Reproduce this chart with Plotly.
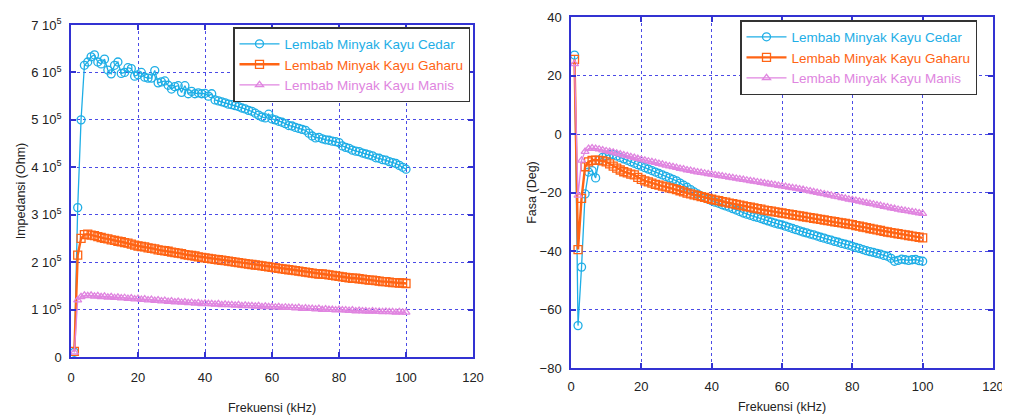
import plotly.graph_objects as go

# Frequency (kHz)
freq = list(range(1, 101))

# Impedance (units of 1e5 Ohm)
imp_cedar = [0.10, 3.15, 5.00, 6.15, 6.22, 6.33, 6.37, 6.22, 6.18, 6.28,
             6.05, 5.97, 6.15, 6.22, 5.98, 6.00, 6.10, 6.08, 5.92, 5.95,
             6.00, 5.90, 5.88, 5.88, 6.04, 5.78, 5.80, 5.82, 5.73, 5.65,
             5.70, 5.72, 5.58, 5.72, 5.55, 5.60, 5.55, 5.57, 5.55, 5.56,
             5.50, 5.55, 5.42, 5.40, 5.38, 5.36, 5.33, 5.32, 5.30, 5.28,
             5.25, 5.23, 5.20, 5.18, 5.14, 5.10, 5.06, 5.04, 5.12, 5.02,
             5.00, 4.97, 4.95, 4.92, 4.88, 4.87, 4.84, 4.82, 4.80, 4.78,
             4.72, 4.66, 4.62, 4.63, 4.60, 4.58, 4.57, 4.55, 4.54, 4.52,
             4.45, 4.42, 4.40, 4.36, 4.34, 4.33, 4.30, 4.28, 4.26, 4.24,
             4.20, 4.19, 4.16, 4.15, 4.12, 4.10, 4.08, 4.04, 4.00, 3.96]
imp_gaharu = [0.12, 2.15, 2.50, 2.58, 2.59, 2.57, 2.56, 2.54, 2.52, 2.50,
              2.49, 2.47, 2.46, 2.44, 2.43, 2.41, 2.40, 2.38, 2.36, 2.34,
              2.33, 2.32, 2.30, 2.29, 2.28, 2.26, 2.25, 2.24, 2.23, 2.21,
              2.20, 2.19, 2.18, 2.16, 2.15, 2.14, 2.13, 2.11, 2.10, 2.09,
              2.08, 2.07, 2.06, 2.05, 2.04, 2.03, 2.02, 2.01, 2.00, 1.99,
              1.98, 1.97, 1.96, 1.95, 1.94, 1.93, 1.92, 1.91, 1.90, 1.89,
              1.88, 1.87, 1.86, 1.85, 1.84, 1.83, 1.82, 1.81, 1.80, 1.79,
              1.78, 1.77, 1.76, 1.75, 1.75, 1.74, 1.73, 1.72, 1.71, 1.70,
              1.69, 1.68, 1.67, 1.66, 1.66, 1.65, 1.64, 1.63, 1.62, 1.62,
              1.61, 1.60, 1.59, 1.59, 1.58, 1.57, 1.57, 1.56, 1.56, 1.55]
imp_manis = [0.10, 1.20, 1.27, 1.30, 1.29, 1.30, 1.28, 1.29, 1.27, 1.28,
             1.26, 1.27, 1.25, 1.26, 1.24, 1.25, 1.23, 1.24, 1.22, 1.23,
             1.21, 1.22, 1.20, 1.21, 1.19, 1.20, 1.18, 1.19, 1.17, 1.18,
             1.16, 1.17, 1.15, 1.16, 1.14, 1.15, 1.13, 1.14, 1.12, 1.13,
             1.12, 1.12, 1.11, 1.12, 1.10, 1.11, 1.10, 1.10, 1.09, 1.10,
             1.08, 1.09, 1.08, 1.08, 1.07, 1.08, 1.06, 1.07, 1.06, 1.06,
             1.05, 1.06, 1.04, 1.05, 1.04, 1.04, 1.03, 1.04, 1.02, 1.03,
             1.02, 1.02, 1.01, 1.02, 1.00, 1.01, 1.00, 1.00, 0.99, 1.00,
             0.99, 0.99, 0.98, 0.99, 0.97, 0.98, 0.97, 0.97, 0.96, 0.97,
             0.96, 0.96, 0.95, 0.96, 0.95, 0.95, 0.94, 0.95, 0.94, 0.94]

# Phase (deg)
fasa_cedar = [27.0, -65.5, -45.5, -20.5, -13.0, -12.5, -15.0, -9.0, -8.0, -7.5,
              -7.0, -7.0, -7.5, -8.0, -8.5, -9.0, -9.5, -10.0, -10.5, -11.0,
              -11.5, -12.0, -12.5, -13.0, -13.5, -14.0, -14.5, -15.0, -15.5, -16.0,
              -16.8, -17.5, -18.2, -19.0, -19.8, -20.5, -21.2, -21.8, -22.3, -22.8,
              -23.3, -23.7, -24.2, -24.6, -25.0, -25.5, -26.0, -26.5, -27.0, -27.4,
              -27.8, -28.2, -28.5, -28.9, -29.3, -29.7, -30.1, -30.5, -30.8, -31.1,
              -31.5, -31.9, -32.3, -32.7, -33.1, -33.5, -33.8, -34.2, -34.5, -34.9,
              -35.3, -35.6, -36.0, -36.3, -36.7, -37.0, -37.4, -37.7, -38.0, -38.4,
              -38.8, -39.1, -39.5, -39.9, -40.2, -40.5, -40.8, -41.1, -41.5, -41.8,
              -42.5, -43.5, -43.2, -42.8, -43.0, -43.2, -43.0, -42.9, -43.3, -43.5]
fasa_gaharu = [25.5, -39.5, -22.0, -11.2, -9.5, -9.0, -8.9, -9.0, -9.2, -9.5,
               -10.2, -11.0, -11.7, -12.3, -12.9, -13.3, -13.7, -14.0, -14.8, -15.5,
               -16.0, -16.4, -16.8, -17.2, -17.5, -17.8, -18.1, -18.4, -18.7, -19.0,
               -19.4, -19.8, -20.2, -20.5, -20.8, -21.1, -21.4, -21.7, -22.0, -22.3,
               -22.6, -22.8, -23.1, -23.3, -23.6, -23.8, -24.1, -24.3, -24.6, -24.8,
               -25.0, -25.3, -25.5, -25.7, -26.0, -26.2, -26.4, -26.6, -26.8, -27.0,
               -27.2, -27.4, -27.6, -27.8, -28.0, -28.2, -28.4, -28.6, -28.8, -29.0,
               -29.2, -29.4, -29.6, -29.8, -30.0, -30.2, -30.4, -30.6, -30.8, -31.0,
               -31.3, -31.5, -31.8, -32.0, -32.3, -32.5, -32.8, -33.0, -33.3, -33.5,
               -33.7, -33.9, -34.1, -34.3, -34.5, -34.7, -34.9, -35.1, -35.3, -35.5]
fasa_manis = [24.0, -21.0, -9.0, -6.0, -5.0, -4.8, -5.0, -5.2, -5.5, -5.8,
              -6.0, -6.3, -6.6, -6.9, -7.2, -7.5, -7.8, -8.1, -8.4, -8.7,
              -9.0, -9.3, -9.5, -9.8, -10.1, -10.4, -10.7, -11.0, -11.2, -11.5,
              -11.8, -12.0, -12.3, -12.5, -12.8, -13.0, -13.2, -13.4, -13.6, -13.8,
              -14.0, -14.2, -14.4, -14.6, -14.8, -15.0, -15.2, -15.4, -15.6, -15.8,
              -16.0, -16.2, -16.4, -16.6, -16.8, -17.0, -17.2, -17.4, -17.6, -17.8,
              -18.0, -18.2, -18.4, -18.6, -18.8, -19.0, -19.3, -19.5, -19.8, -20.0,
              -20.3, -20.5, -20.8, -21.0, -21.3, -21.5, -21.8, -22.0, -22.3, -22.5,
              -22.8, -23.0, -23.3, -23.5, -23.8, -24.0, -24.3, -24.5, -24.8, -25.0,
              -25.3, -25.5, -25.8, -26.0, -26.2, -26.4, -26.6, -26.8, -27.0, -27.2]

series_names = ["Lembab Minyak Kayu Cedar", "Lembab Minyak Kayu Gaharu", "Lembab Minyak Kayu Manis"]
colors = ["#1eaee6", "#ff6414", "#e085e0"]
symbols = ["circle-open", "square-open", "triangle-up-open"]
msizes = [8, 8, 7]
lwidths = [1.3, 2.4, 1.3]

imp_tickvals = [0, 1, 2, 3, 4, 5, 6, 7]
imp_ticktext = ["0"] + [f"{k} 10<sup>5</sup>" for k in range(1, 8)]

FONT = "Arial, Liberation Sans, sans-serif"
BLUE = "#3232d2"
GRID = "#4b4be6"

fig = go.Figure()

imp_data = [imp_cedar, imp_gaharu, imp_manis]
fasa_data = [fasa_cedar, fasa_gaharu, fasa_manis]

for i in range(3):
    fig.add_trace(go.Scatter(
        x=freq, y=[v * 1e5 for v in imp_data[i]], mode="lines+markers",
        name=f"<span style='color:{colors[i]}'>{series_names[i]}</span>",
        line=dict(color=colors[i], width=lwidths[i]),
        marker=dict(symbol=symbols[i], size=msizes[i], color=colors[i], line=dict(width=1.3)),
        xaxis="x", yaxis="y", legend="legend"))
for i in range(3):
    fig.add_trace(go.Scatter(
        x=freq, y=fasa_data[i], mode="lines+markers",
        name=f"<span style='color:{colors[i]}'>{series_names[i]}</span>",
        line=dict(color=colors[i], width=lwidths[i]),
        marker=dict(symbol=symbols[i], size=msizes[i], color=colors[i], line=dict(width=1.3)),
        xaxis="x2", yaxis="y2", legend="legend2"))

W, H = 1010, 415
OFF = 8  # page body margin offset
axis_common = dict(
    showline=True, linecolor=BLUE, linewidth=1.5, mirror="allticks",
    ticks="inside", ticklen=5, tickcolor=BLUE, tickwidth=1.5,
    showgrid=True, gridcolor=GRID, griddash="dot", gridwidth=1,
    zeroline=False, tickfont=dict(family=FONT, size=13, color="#222"),
    automargin=False,
)


def px_x(p):
    return (p - OFF) / W


def px_y(p):
    return 1 - (p - OFF) / H


fig.update_layout(
    width=W, height=H, margin=dict(l=0, r=0, t=0, b=0, autoexpand=False),
    paper_bgcolor="white", plot_bgcolor="white",
    font=dict(family=FONT, color="#222"),
    xaxis=dict(domain=[px_x(71), px_x(473)], range=[0, 120], dtick=20, anchor="y",
               ticklabelstandoff=8,
               title=dict(text="Frekuensi (kHz)", font=dict(size=12.5), standoff=19),
               **axis_common),
    yaxis=dict(domain=[px_y(357), px_y(25)], range=[0, 7e5], anchor="x",
               ticklabelstandoff=5,
               tickvals=[v * 1e5 for v in imp_tickvals], ticktext=imp_ticktext,
               title=dict(text="Impedansi (Ohm)", font=dict(size=12.5), standoff=3),
               **axis_common),
    xaxis2=dict(domain=[px_x(571), px_x(993)], range=[0, 120], dtick=20, anchor="y2",
                ticklabelstandoff=6,
                title=dict(text="Frekuensi (kHz)", font=dict(size=12.5), standoff=9),
                **axis_common),
    yaxis2=dict(domain=[px_y(368), px_y(17)], range=[-80, 40], dtick=20, anchor="x2",
                ticklabelstandoff=5,
                title=dict(text="Fasa (Deg)", font=dict(size=12.5), standoff=0),
                **axis_common),
    legend=dict(x=px_x(233), y=px_y(27), xanchor="left", yanchor="top",
                bgcolor="white", bordercolor="#333", borderwidth=1.5,
                font=dict(family=FONT, size=13.5), itemwidth=40, tracegroupgap=0,
                traceorder="normal"),
    legend2=dict(x=px_x(740), y=px_y(20), xanchor="left", yanchor="top",
                 bgcolor="white", bordercolor="#333", borderwidth=1.5,
                 font=dict(family=FONT, size=13.5), itemwidth=40, tracegroupgap=0,
                 traceorder="normal"),
    showlegend=True,
)

fig.write_html("out.html")
